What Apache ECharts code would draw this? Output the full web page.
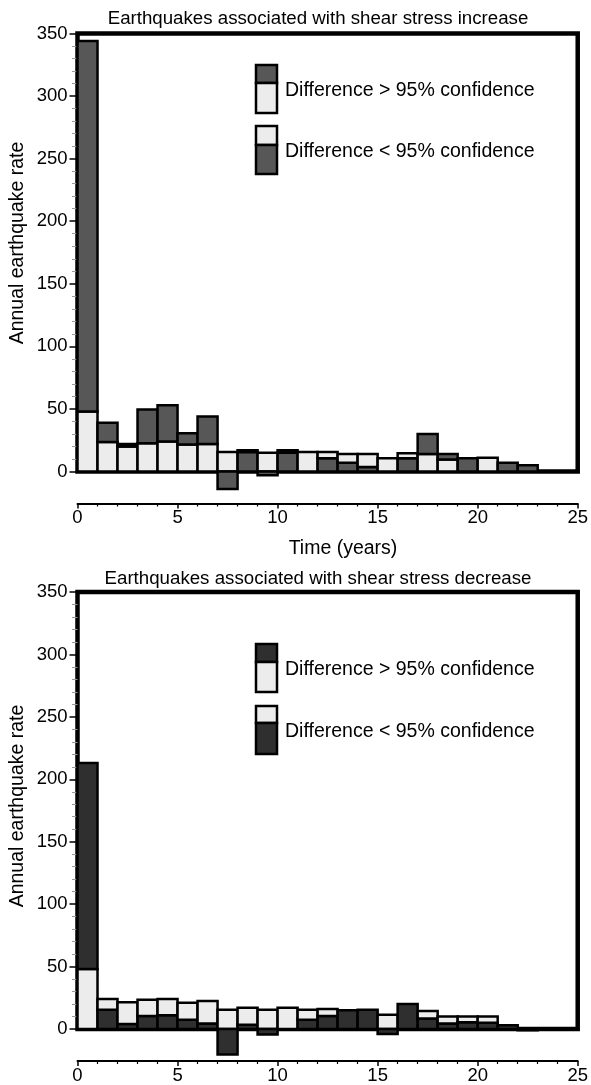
<!DOCTYPE html>
<html>
<head>
<meta charset="utf-8">
<title>Earthquake rate</title>
<script src="https://cdn.jsdelivr.net/npm/echarts@6/dist/echarts.min.js"></script>
<style>
    html, body { margin: 0; padding: 0; background: #fff; }
    #chart { width: 591px; height: 1085px; }
</style>
</head>
<body>
<div id="chart"></div>
<script>
// bin start (years), each bin is 1 year wide
const binStart = [0, 1, 2, 3, 4, 5, 6, 7, 8, 9, 10, 11, 12, 13, 14, 15, 16, 17, 18, 19, 20, 21, 22];

// shear stress increase: light = reference rate, dark = observed rate
const incLight = [48, 23.5, 20, 22.5, 24, 21.5, 22, 15.5, 17, 15, 17, 15.5, 15.5, 14, 14, 10.5, 14.5, 14, 9.5, 0, 11, 0, 0];
const incDark = [344, 39, 22, 49.5, 53, 30.5, 44, -14, 15.5, -3, 15, 0, 10.5, 7, 3.5, 0, 10.5, 30, 14, 10.5, 0, 7, 5];

// shear stress decrease
const decLight = [48, 24, 21.5, 23.5, 24, 21, 22.5, 15.5, 17, 15.5, 17, 15.5, 16, 0, 0, 11.5, 0, 14.5, 10, 10, 10, 0, 0];
const decDark = [213, 15.5, 4, 10.5, 11, 7.5, 4.5, -20.5, 3.5, -4.5, 0, 7.5, 10.5, 15, 15.5, -4, 20, 8.5, 4.5, 5.5, 5, 3, -1];

const yTicks = [0, 50, 100, 150, 200, 250, 300, 350];
const xTicks = [0, 5, 10, 15, 20, 25];

const FONT = "'Liberation Sans', Arial, Helvetica, sans-serif";
const LIGHT = '#ececec';
const DARK_INC = '#575757';
const DARK_DEC = '#2f2f2f';

const chart = echarts.init(document.getElementById('chart'));

// split one bin into its two boxes
function segments(light, dark, darkColor) {
    if (dark > light) return [[0, light, LIGHT], [light, dark, darkColor]];
    if (dark >= 0) return [[0, dark, darkColor], [dark, light, LIGHT]];
    return [[0, light, LIGHT], [dark, 0, darkColor]];
}

function makeRender(darkColor) {
    return function (params, api) {
        const x0 = api.value(0);
        const segs = segments(api.value(1), api.value(2), darkColor);
        const children = segs.map(function (s) {
            const p0 = api.coord([x0, s[1]]);
            const p1 = api.coord([x0 + 1, s[0]]);
            return {
                type: 'rect',
                shape: { x: p0[0], y: p0[1], width: p1[0] - p0[0], height: p1[1] - p0[1] },
                style: { fill: s[2], stroke: '#000', lineWidth: 2.5 }
            };
        });
        return { type: 'group', children: children };
    };
}

function toData(light, dark) {
    return binStart.map(function (x, i) { return [x, light[i], dark[i]]; });
}

function xAxisCfg(idx) {
    return {
        type: 'value', gridIndex: idx, min: xTicks[0], max: xTicks[xTicks.length - 1], interval: 5,
        position: 'bottom', offset: 32,
        axisLine: { show: true, onZero: false, lineStyle: { color: '#000', width: 2 } },
        axisTick: { show: true, length: 5, lineStyle: { color: '#000', width: 1.5 } },
        minorTick: { show: true, splitNumber: 5, length: 3, lineStyle: { color: '#000', width: 1.2 } },
        axisLabel: { margin: 5, fontFamily: FONT, fontSize: 18.5, color: '#000' },
        splitLine: { show: false }
    };
}

function yAxisCfg(idx) {
    return {
        type: 'value', gridIndex: idx, min: yTicks[0], max: yTicks[yTicks.length - 1], interval: 50,
        axisLine: { show: false },
        axisTick: { show: true, length: 8, lineStyle: { color: '#000', width: 1.5 } },
        minorTick: { show: true, splitNumber: 5, length: 5.5, lineStyle: { color: '#999', width: 1 } },
        axisLabel: { margin: 10, fontFamily: FONT, fontSize: 18.5, color: '#000' },
        splitLine: { show: false }
    };
}

// legend boxes + text for one panel
function legend(top1, split1, top2, split2, darkColor) {
    const x = 256, w = 21;
    const box = function (y0, y1, fill) {
        return { type: 'rect', shape: { x: x, y: y0, width: w, height: y1 - y0 },
            style: { fill: fill, stroke: '#000', lineWidth: 2.5 }, z: 10 };
    };
    const txt = function (y, s) {
        return { type: 'text', x: 285, y: y, z: 10,
            style: { text: s, fontFamily: FONT, fontSize: 19.5, fill: '#000', verticalAlign: 'middle' } };
    };
    return [
        box(top1, split1, darkColor), box(split1, top1 + 48, LIGHT),
        txt((top1 + top1 + 48) / 2 + 2, 'Difference > 95% confidence'),
        box(top2, split2, LIGHT), box(split2, top2 + 48, darkColor),
        txt((top2 + top2 + 48) / 2 + 2, 'Difference < 95% confidence')
    ];
}

function label(x, y, s, size) {
    return { type: 'text', x: x, y: y,
        style: { text: s, fontFamily: FONT, fontSize: size, fill: '#000', align: 'center', verticalAlign: 'middle' } };
}

function yName(y) {
    return { type: 'text', x: 18, y: y, rotation: Math.PI / 2,
        style: { text: 'Annual earthquake rate', fontFamily: FONT, fontSize: 19.5, fill: '#000', align: 'center', verticalAlign: 'middle' } };
}

chart.setOption({
    animation: false,
    grid: [
        { left: 77.5, top: 33.5, width: 503, height: 438, show: true, borderColor: '#000', borderWidth: 4.5, backgroundColor: 'transparent' },
        { left: 77.5, top: 592, width: 503, height: 439, show: true, borderColor: '#000', borderWidth: 4.5, backgroundColor: 'transparent' }
    ],
    xAxis: [xAxisCfg(0), xAxisCfg(1)],
    yAxis: [yAxisCfg(0), yAxisCfg(1)],
    graphic: [].concat(
        [label(318, 19, 'Earthquakes associated with shear stress increase', 18.7),
         label(318, 579, 'Earthquakes associated with shear stress decrease', 18.7),
         label(343, 549, 'Time (years)', 19.5),
         yName(243), yName(806)],
        legend(65, 83, 126, 145, DARK_INC),
        legend(644, 662, 706, 723, DARK_DEC)
    ),
    series: [
        { type: 'custom', xAxisIndex: 0, yAxisIndex: 0, clip: false, renderItem: makeRender(DARK_INC),
          encode: { x: 0, y: [1, 2] }, data: toData(incLight, incDark) },
        { type: 'custom', xAxisIndex: 1, yAxisIndex: 1, clip: false, renderItem: makeRender(DARK_DEC),
          encode: { x: 0, y: [1, 2] }, data: toData(decLight, decDark) }
    ]
});
</script>
</body>
</html>
